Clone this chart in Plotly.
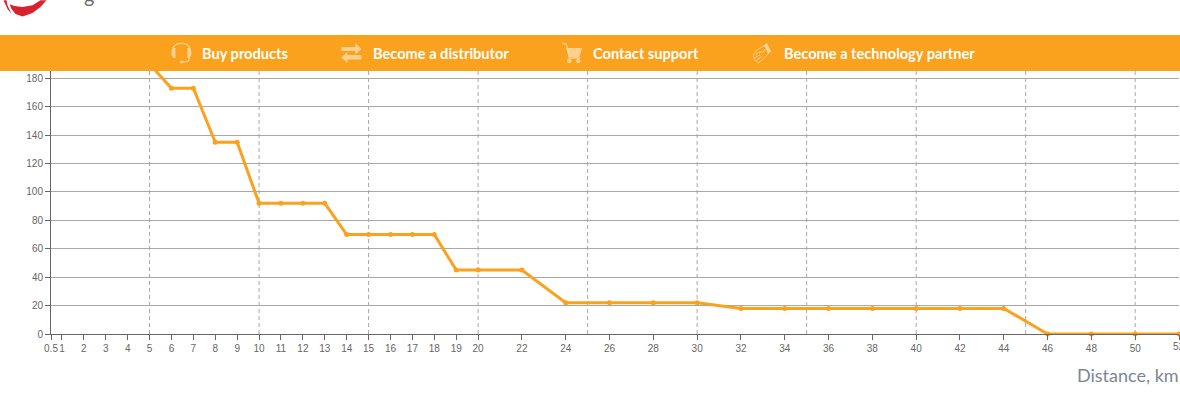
import plotly.graph_objects as go

distance_km = [5, 6, 7, 8, 9, 10, 11, 12, 13, 14, 15, 16, 17, 18, 19, 20, 22, 24, 26, 28, 30,
               32, 34, 36, 38, 40, 42, 44, 46, 48, 50, 52]
values = [190, 173, 173, 135, 135, 92, 92, 92, 92, 70, 70, 70, 70, 70, 45, 45, 45, 22, 22, 22, 22,
          18, 18, 18, 18, 18, 18, 18, 0, 0, 0, 0]
x_ticks = [0.5] + list(range(1, 21)) + list(range(22, 53, 2))
x_tick_labels = [str(t) for t in x_ticks]
y_ticks = list(range(0, 181, 20))
dashed_at = list(range(5, 51, 5))
nav_labels = ["Buy products", "Become a distributor", "Contact support", "Become a technology partner"]
nav_label_x = [200, 371, 591, 782]
x_title = "Distance, km"

W, H = 1180, 396
L, R, T, B = 50.5, 1179, 71, 334.5
ORANGE = "#FAA11E"
ICON = "rgba(255,255,255,0.5)"


def X(p):
    return (p - L) / (R - L)


def Y(p):
    return (B - p) / (B - T)


def path(points, close=True):
    s = "M " + " L ".join(f"{X(a):.5f},{Y(b):.5f}" for a, b in points)
    return s + (" Z" if close else "")


def paper_shape(kind="path", **kw):
    return dict(type=kind, xref="paper", yref="paper", **kw)


def circle(cx, cy, r, color=ICON):
    return paper_shape("circle", x0=X(cx - r), x1=X(cx + r), y0=Y(cy + r), y1=Y(cy - r),
                       fillcolor=color, line=dict(width=0), layer="above")


def poly(points, color=ICON):
    return paper_shape(path=path(points), fillcolor=color, line=dict(width=0), layer="above")


def stroke(points, color=ICON, width=1.3):
    return paper_shape(path=path(points, close=False), line=dict(color=color, width=width), layer="above")


fig = go.Figure()
fig.add_trace(go.Scatter(
    x=distance_km, y=values, mode="lines+markers", cliponaxis=False,
    line=dict(color=ORANGE, width=3),
    marker=dict(color=ORANGE, size=5),
    hoverinfo="skip", showlegend=False,
))

shapes = []
for d in dashed_at:
    shapes.append(dict(type="line", xref="x", yref="paper", x0=d, x1=d, y0=0, y1=1, layer="below",
                       line=dict(color="#a8a8a8", width=1, dash="4px,3px")))

# Banner
shapes.append(paper_shape("rect", x0=X(-10), x1=X(W + 10), y0=Y(71), y1=Y(35),
                          fillcolor=ORANGE, line=dict(width=0), layer="above"))

# Headset icon
headset_arc = [(172.5, 51), (173, 47), (176, 44), (181, 43), (186, 44), (189, 47), (189.5, 51)]
shapes += [stroke(headset_arc),
           poly([(173, 48), (175, 48), (175, 58), (173, 58), (171, 55), (171, 51)]),
           poly([(187, 48), (189, 48), (191, 51), (191, 55), (189, 58), (187, 58)]),
           stroke([(189, 58), (188, 61), (182, 62)]),
           circle(181, 62, 1.6)]
# Exchange arrows icon
shapes += [poly([(341, 47), (355, 47), (355, 43), (361, 49), (355, 54.5), (355, 51), (341, 51)]),
           poly([(361, 55), (347, 55), (347, 52), (341, 57.5), (347, 63), (347, 59.5), (361, 59.5)])]
# Cart icon
shapes += [poly([(566, 48), (582, 48), (579, 57), (569, 57)]),
           stroke([(562, 43), (566, 44), (569, 58), (580, 58)]),
           circle(569, 61, 2.3), circle(578, 61, 2.3)]
# Handshake icon
shapes += [poly([(766.7, 42.7), (771, 51.7), (768.3, 53.3), (764, 45.3)]),
           stroke([(753.3, 54.3), (758, 49), (765, 45.3), (768.3, 53.3), (763.3, 58.7), (758.3, 62.7),
                   (754, 59.3), (753.3, 54.3)], width=1),
           stroke([(755, 55), (759, 52), (763, 52), (765, 49)], width=1),
           stroke([(755, 57.5), (760, 54.5)], width=1),
           stroke([(756.5, 60), (761.5, 56.5)], width=1)]

# Logo fragment at the top edge
shapes.append(poly([(3, 0), (7, 9), (11, 14), (7, 5), (6, 0)], "#D8232F"))
shapes.append(poly([(9, 4), (14, 6), (22, 7), (32, 5), (40, 0), (46, 0), (40, 7), (32, 13), (22, 16.5), (15, 14), (11, 9)], "#D8232F"))

annotations = [dict(x=X(tx), y=Y(53), xref="paper", yref="paper", text=t, showarrow=False,
                    xanchor="left", yanchor="middle",
                    font=dict(family="Lato", size=14.6, color="white", weight=700))
               for t, tx in zip(nav_labels, nav_label_x)]
annotations.append(dict(x=X(1181), y=Y(376), xref="paper", yref="paper", text=x_title, showarrow=False,
                        xanchor="right", yanchor="middle",
                        font=dict(family="Lato", size=18, color="#7b8794")))
annotations.append(dict(x=X(89), y=Y(-5), xref="paper", yref="paper", text="g", showarrow=False,
                        xanchor="center", yanchor="middle",
                        font=dict(family="Lato", size=20, color="#6a6a6a")))
# The last tick label runs off the right edge, as in the reference
annotations.append(dict(x=x_ticks[-1], y=Y(347), xref="x", yref="paper", text=x_tick_labels[-1], showarrow=False,
                        xanchor="center", yanchor="middle",
                        font=dict(family="Liberation Sans", size=10, color="#666666")))

fig.update_layout(
    width=W, height=H, autosize=False,
    margin=dict(l=L, r=W - R, t=T, b=H - B, pad=0),
    paper_bgcolor="white", plot_bgcolor="white",
    shapes=shapes, annotations=annotations,
    font=dict(family="Liberation Sans", size=10, color="#666666"),
    xaxis=dict(range=[0.5, 52], tickmode="array", tickvals=x_ticks, ticktext=x_tick_labels,
               ticks="outside", ticklen=5, tickcolor="#666666", tickwidth=1,
               showgrid=False, zeroline=False, showline=True, linecolor="#666666", linewidth=1,
               tickfont=dict(size=10, color="#666666"), tickangle=0),
    yaxis=dict(range=[0, (B - T) / (B - 78.3) * 180], tickmode="array", tickvals=y_ticks,
               ticks="outside", ticklen=5, tickcolor="#666666", tickwidth=1,
               showgrid=True, gridcolor="#a8a8a8", gridwidth=1, zeroline=False,
               showline=True, linecolor="#666666", linewidth=1,
               tickfont=dict(size=10, color="#666666")),
)

fig.write_html("out.html", config=dict(displayModeBar=False),
               post_script="document.body.style.margin='0';")
